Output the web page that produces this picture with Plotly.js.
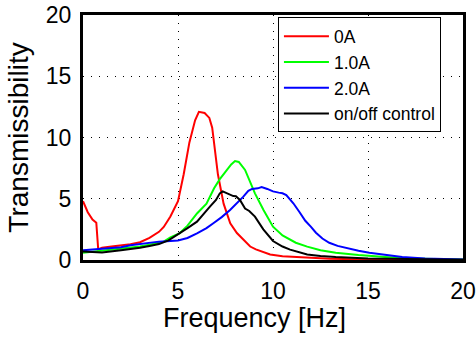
<!DOCTYPE html>
<html>
<head>
<meta charset="utf-8">
<script src="https://cdn.plot.ly/plotly-3.0.1.min.js"></script>
<style>html,body{margin:0;padding:0;background:#fff;}#chart{width:476px;height:342px;}</style>
</head>
<body>
<div id="chart"></div>
<script>
// Series names
var seriesNames = ["0A", "1.0A", "2.0A", "on/off control"];

// 0A
var freq0A = [0, 0.25, 0.5, 0.7, 0.8, 1, 1.5, 2, 2.5, 3, 3.5, 4, 4.25, 4.6, 5, 5.3, 5.6, 5.9, 6.1, 6.4, 6.65, 6.8, 6.95, 7.1, 7.4, 7.75, 8.1, 8.8, 9.1, 9.85, 10.5, 11.6, 13, 15, 17, 20];
var trans0A = [4.8, 3.9, 3.3, 3.05, 0.87, 1.0, 1.1, 1.2, 1.28, 1.45, 1.8, 2.3, 2.7, 3.55, 4.8, 7.0, 9.6, 11.4, 12.1, 12.0, 11.6, 10.8, 9.0, 7.0, 4.6, 3.0, 2.2, 1.1, 0.87, 0.45, 0.3, 0.19, 0.1, 0.05, 0.03, 0.02];

// 1.0A
var freq1A = [0, 1, 2, 3, 3.5, 4, 4.25, 4.6, 5.1, 5.5, 6, 6.5, 6.9, 7.2, 7.56, 7.8, 8.0, 8.2, 8.53, 8.8, 9.05, 9.5, 10, 10.5, 10.9, 11.2, 11.8, 12.5, 13.3, 14.5, 15.9, 17, 18.5, 20];
var trans1A = [0.6, 0.75, 0.9, 1.1, 1.25, 1.4, 1.5, 1.85, 2.2, 2.8, 3.8, 4.6, 5.85, 6.6, 7.35, 7.8, 8.08, 8.0, 7.35, 6.4, 5.44, 4.08, 2.72, 2.0, 1.63, 1.41, 1.09, 0.8, 0.6, 0.4, 0.25, 0.15, 0.08, 0.05];

// 2.0A
var freq2A = [0, 1, 2, 2.5, 3, 4, 5, 5.5, 6, 6.5, 6.86, 7.3, 7.74, 8.1, 8.44, 8.7, 8.9, 9.2, 9.4, 9.7, 10, 10.3, 10.5, 10.7, 11.07, 11.4, 11.7, 12.0, 12.26, 12.6, 12.96, 13.4, 13.8, 14.5, 15.07, 16, 16.8, 18, 19, 20];
var trans2A = [0.8, 0.9, 1.05, 1.2, 1.3, 1.5, 1.6, 1.8, 2.18, 2.6, 3.0, 3.5, 4.08, 4.6, 5.17, 5.65, 5.8, 5.85, 5.95, 5.8, 5.6, 5.5, 5.45, 5.3, 4.63, 3.9, 3.2, 2.7, 2.23, 1.75, 1.41, 1.15, 1.0, 0.75, 0.6, 0.4, 0.24, 0.12, 0.08, 0.05];

// on/off control
var freqOnOff = [0, 1, 2, 2.5, 3, 3.5, 4, 4.5, 5.1, 5.5, 6, 6.4, 6.68, 7.0, 7.2, 7.35, 7.5, 7.7, 7.91, 8.05, 8.26, 8.53, 8.75, 9.05, 9.3, 9.49, 10, 10.5, 10.9, 11.2, 11.8, 12.5, 13.3, 15, 17, 20];
var transOnOff = [0.7, 0.62, 0.8, 0.87, 1.0, 1.15, 1.3, 1.6, 2.18, 2.6, 3.13, 3.8, 4.35, 4.9, 5.44, 5.6, 5.5, 5.4, 5.22, 5.2, 4.9, 4.2, 4.0, 3.54, 3.0, 2.5, 1.55, 1.1, 0.85, 0.73, 0.45, 0.33, 0.24, 0.12, 0.06, 0.03];

// Axis ticks and titles
var xTicks = [0, 5, 10, 15, 20];
var yTicks = [0, 5, 10, 15, 20];
var xTitle = "Frequency [Hz]";
var yTitle = "Transmissibility";

var colors = ["#ff0000", "#00ff00", "#0000ff", "#000000"];
var xs = [freq0A, freq1A, freq2A, freqOnOff];
var ys = [trans0A, trans1A, trans2A, transOnOff];

var traces = seriesNames.map(function (n, i) {
  return {x: xs[i], y: ys[i], type: "scatter", mode: "lines", name: n,
          line: {color: colors[i], width: 2}};
});

var fontFam = "Liberation Sans, Arial, sans-serif";
var layout = {
  width: 476, height: 342,
  margin: {l: 83, r: 13, t: 15, b: 82},
  paper_bgcolor: "#fff", plot_bgcolor: "#fff",
  font: {family: fontFam, color: "#000"},
  showlegend: true,
  legend: {x: 0.513, y: 0.99, xanchor: "left", yanchor: "top",
           bgcolor: "#fff", bordercolor: "#000", borderwidth: 1,
           font: {size: 17.5, family: fontFam, color: "#000"}, itemwidth: 45,
           entrywidth: 180, entrywidthmode: "pixels"},
  xaxis: {range: [0, 20], tickvals: xTicks, ticktext: xTicks.map(String),
          showline: true, linecolor: "#000", linewidth: 3, mirror: true,
          showgrid: true, gridcolor: "#000", gridwidth: 1, griddash: "1px,7px",
          zeroline: false, ticks: "", ticklabelstandoff: 8,
          tickfont: {size: 23, family: fontFam, color: "#000"}},
  yaxis: {range: [0, 20], tickvals: yTicks, ticktext: yTicks.map(String),
          showline: true, linecolor: "#000", linewidth: 3, mirror: true,
          showgrid: true, gridcolor: "#000", gridwidth: 1, griddash: "1px,7px",
          zeroline: false, ticks: "", ticklabelstandoff: 4,
          tickfont: {size: 23, family: fontFam, color: "#000"},
          title: {text: yTitle, font: {size: 28, family: fontFam, color: "#000"}, standoff: 10}},
  annotations: [{text: xTitle, xref: "paper", yref: "paper", x: 0.45, y: -0.237,
                 xanchor: "center", yanchor: "middle", showarrow: false,
                 font: {size: 27, family: fontFam, color: "#000"}}]
};

Plotly.newPlot("chart", traces, layout, {staticPlot: true, displayModeBar: false});
</script>
</body>
</html>
